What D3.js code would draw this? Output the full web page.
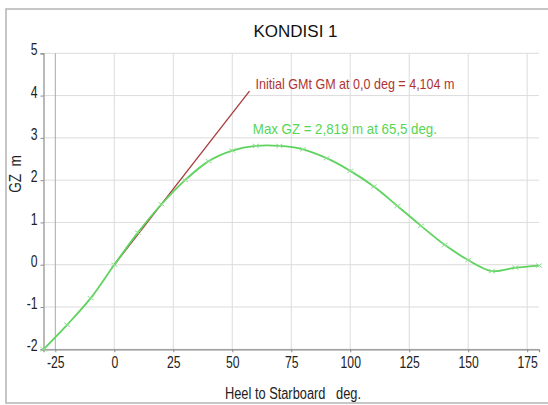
<!DOCTYPE html>
<html>
<head>
<meta charset="utf-8">
<script src="https://cdn.jsdelivr.net/npm/d3@7"></script>
<style>
  body { margin: 0; background: #fff; }
  text { font-family: "Liberation Sans", Arial, sans-serif; }
</style>
</head>
<body>
<svg width="548" height="405"></svg>
<script>
// heel angle (deg) and GZ (m), every 10 deg
let heel = [-30,-20,-10,0,10,20,30,40,50,60,70,80,90,100,110,120,130,140,150,160,170,180]
let gz = [-2.00,-1.42,-0.79,0,0.76,1.43,2.00,2.45,2.70,2.81,2.81,2.73,2.52,2.22,1.85,1.39,0.92,0.47,0.11,-0.15,-0.07,-0.02]
let xTicks = [-25,0,25,50,75,100,125,150,175]
let yTicks = [-2,-1,0,1,2,3,4,5]
let initialGM = 4.104
let maxGZ = 2.819, maxAt = 65.5

const svg = d3.select("svg")
const W = 548, H = 405
const margin = {left: 43.5, top: 53.3, right: W - 539, bottom: H - 349.3}

const x = d3.scaleLinear().domain([-30, 180]).range([margin.left, W - margin.right])
const y = d3.scaleLinear().domain([-2, 5]).range([H - margin.bottom, margin.top])

// squeeze helper - the original uses a narrow font
function narrow(sel, k) {
    sel.each(function() {
        const t = d3.select(this)
        const tx = +t.attr("x") || 0, ty = +t.attr("y") || 0
        t.attr("transform", `translate(${tx},${ty}) scale(${k},1)`).attr("x", 0).attr("y", 0)
    })
}

// outer frame
svg.append("rect").attr("x", 6).attr("y", 9).attr("width", 600).attr("height", 394)
   .attr("fill", "none").attr("stroke", "#b4b4b4").attr("stroke-width", 1.5)

// grid
svg.append("g").selectAll("line").data(yTicks).join("line")
   .attr("x1", x(-30)).attr("x2", x(180))
   .attr("y1", d => y(d)).attr("y2", d => y(d))
   .attr("stroke", "#dcdcdc").attr("stroke-width", 1)
svg.append("g").selectAll("line").data(xTicks).join("line")
   .attr("x1", d => x(d)).attr("x2", d => x(d))
   .attr("y1", y(-2)).attr("y2", y(5))
   .attr("stroke", d => d == -25 ? "#a8a8a8" : "#dcdcdc").attr("stroke-width", 1)

// axes
const xAxis = d3.axisBottom(x).tickValues(xTicks).tickSize(3).tickPadding(4).tickFormat(d => String(d))
const yAxis = d3.axisLeft(y).tickValues(yTicks).tickSize(3).tickPadding(3).tickFormat(d => String(d))

const gx = svg.append("g").attr("transform", `translate(0,${y(-2)})`).call(xAxis)
const gy = svg.append("g").attr("transform", `translate(${x(-30)},0)`).call(yAxis)
for (const g of [gx, gy]) {
    g.select(".domain").attr("stroke", "#8c8c8c").attr("stroke-width", 1.2)
    g.selectAll(".tick line").attr("stroke", "#8c8c8c")
    g.selectAll("text").attr("font-size", 16.5).attr("fill", "#222")
      .style("font-family", "'Liberation Sans', Arial, sans-serif")
}
gy.selectAll("text").attr("dy", "0.1em")
narrow(gx.selectAll("text"), 0.74)
narrow(gy.selectAll("text"), 0.74)

// tangent at origin (GM per radian)
const radDeg = 180 / Math.PI
svg.append("line")
   .attr("x1", x(0)).attr("y1", y(0))
   .attr("x2", x(radDeg)).attr("y2", y(initialGM))
   .attr("stroke", "#a83a3a").attr("stroke-width", 1.3)

// GZ curve
const pts = heel.map((h, i) => [h, gz[i]])
const line = d3.line().x(d => x(d[0])).y(d => y(d[1])).curve(d3.curveCatmullRom.alpha(0.5))
svg.append("path").datum(pts).attr("d", line)
   .attr("fill", "none").attr("stroke", "#5fd35f").attr("stroke-width", 1.8)

svg.append("g").selectAll("path").data(pts).join("path")
   .attr("d", d => `M${x(d[0]) - 3},${y(d[1]) - 2}l6,4M${x(d[0]) - 3},${y(d[1]) + 2}l6,-4`)
   .attr("stroke", "#8ee08e").attr("stroke-width", 1)

// labels
svg.append("text").attr("x", 295.5).attr("y", 36.5).attr("text-anchor", "middle")
   .attr("font-size", 17).attr("fill", "#111").text("KONDISI 1")

svg.append("text").attr("x", x(radDeg) + 6).attr("y", y(initialGM) - 2.5)
   .attr("font-size", 15).attr("fill", "#b03434")
   .attr("textLength", 199).attr("lengthAdjust", "spacingAndGlyphs")
   .text("Initial GMt GM at 0,0 deg = 4,104 m")

svg.append("text").attr("x", x(maxAt) - 16).attr("y", 133.5)
   .attr("font-size", 15).attr("fill", "#55d655")
   .attr("textLength", 184).attr("lengthAdjust", "spacingAndGlyphs")
   .text("Max GZ = 2,819 m at 65,5 deg.")

svg.append("text").attr("x", 225).attr("y", 398.5)
   .attr("font-size", 16).attr("fill", "#222").attr("xml:space", "preserve")
   .attr("textLength", 136).attr("lengthAdjust", "spacingAndGlyphs")
   .text("Heel to Starboard   deg.")

svg.append("text").attr("transform", "translate(21,174) rotate(-90) scale(0.85,1)").attr("text-anchor", "middle")
   .attr("font-size", 16).attr("fill", "#222").attr("xml:space", "preserve")
   .text("GZ  m")
</script>
</body>
</html>
